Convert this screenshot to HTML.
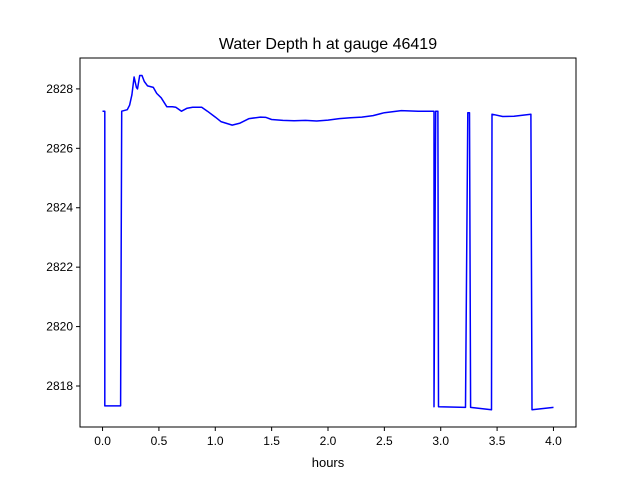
<!DOCTYPE html>
<html><head><meta charset="utf-8"><style>
body{margin:0;background:#fff;}
svg{display:block;font-family:"Liberation Sans","DejaVu Sans",sans-serif;}
</style></head><body>
<svg id="chart" width="640" height="480" viewBox="0 0 640 480">
<rect width="640" height="480" fill="#fff"/>
<text x="328" y="49" font-size="16" text-anchor="middle">Water Depth h at gauge 46419</text>
<g id="xticks"></g>
<g id="yticks"></g>
<path id="line" fill="none" stroke="#0000ff" stroke-width="1.5" stroke-linejoin="round"/>
<rect x="80" y="58" width="496" height="369" fill="none" stroke="#000" stroke-width="1"/>
<text x="328" y="467" font-size="13" text-anchor="middle">hours</text>
</svg>
<script>
const hours=[0,0.02,0.02,0.16,0.17,0.22,0.24,0.26,0.28,0.30,0.31,0.33,0.35,0.37,0.40,0.45,0.48,0.52,0.57,0.62,0.65,0.70,0.75,0.80,0.88,0.93,1.0,1.05,1.15,1.22,1.3,1.4,1.45,1.5,1.6,1.7,1.8,1.9,2.0,2.1,2.2,2.3,2.4,2.5,2.65,2.8,2.94,2.94,2.955,2.975,2.98,3.22,3.24,3.255,3.265,3.45,3.455,3.55,3.65,3.8,3.81,4.0];
const depth=[2827.25,2827.25,2817.33,2817.33,2827.25,2827.3,2827.45,2827.8,2828.4,2828.05,2828.0,2828.45,2828.45,2828.25,2828.1,2828.05,2827.85,2827.7,2827.4,2827.4,2827.38,2827.25,2827.35,2827.38,2827.38,2827.25,2827.05,2826.9,2826.78,2826.85,2827.0,2827.05,2827.04,2826.97,2826.94,2826.93,2826.94,2826.92,2826.95,2827.0,2827.03,2827.05,2827.1,2827.2,2827.27,2827.25,2827.25,2817.3,2827.25,2827.25,2817.3,2817.28,2827.2,2827.2,2817.28,2817.2,2827.15,2827.07,2827.08,2827.15,2817.2,2817.28];
const xTicks=[0,0.5,1,1.5,2,2.5,3,3.5,4];
const yTicks=[2818,2820,2822,2824,2826,2828];
const L=80,R=576,T=58,B=427;
const xMin=-0.2,xMax=4.2,yMin=2816.62,yMax=2829.04;
const sx=v=>L+(v-xMin)/(xMax-xMin)*(R-L);
const sy=v=>B-(v-yMin)/(yMax-yMin)*(B-T);
const NS="http://www.w3.org/2000/svg";
const xg=document.getElementById('xticks'),yg=document.getElementById('yticks');
xTicks.forEach(t=>{
 const l=document.createElementNS(NS,'line');
 
 
 l.setAttribute('x1',sx(t));l.setAttribute('x2',sx(t));l.setAttribute('y1',B);l.setAttribute('y2',B+4);l.setAttribute('stroke','#000');
 xg.appendChild(l);
 const tx=document.createElementNS(NS,'text');
 
 
 tx.setAttribute('x',sx(t));tx.setAttribute('y',B+18);tx.setAttribute('font-size','12');tx.setAttribute('text-anchor','middle');
 tx.textContent=t.toFixed(1);xg.appendChild(tx);
});
yTicks.forEach(t=>{
 const l=document.createElementNS(NS,'line');
 
 
 l.setAttribute('x1',L-4);l.setAttribute('x2',L);l.setAttribute('y1',sy(t));l.setAttribute('y2',sy(t));l.setAttribute('stroke','#000');
 yg.appendChild(l);
 const tx=document.createElementNS(NS,'text');
 
 
 tx.setAttribute('x',L-7);tx.setAttribute('y',sy(t)+4);tx.setAttribute('font-size','12');tx.setAttribute('text-anchor','end');
 tx.textContent=t;yg.appendChild(tx);
});
document.getElementById('line').setAttribute('d',hours.map((h,i)=>(i?'L':'M')+sx(h).toFixed(1)+','+sy(depth[i]).toFixed(1)).join(''));
</script>
</body></html>
